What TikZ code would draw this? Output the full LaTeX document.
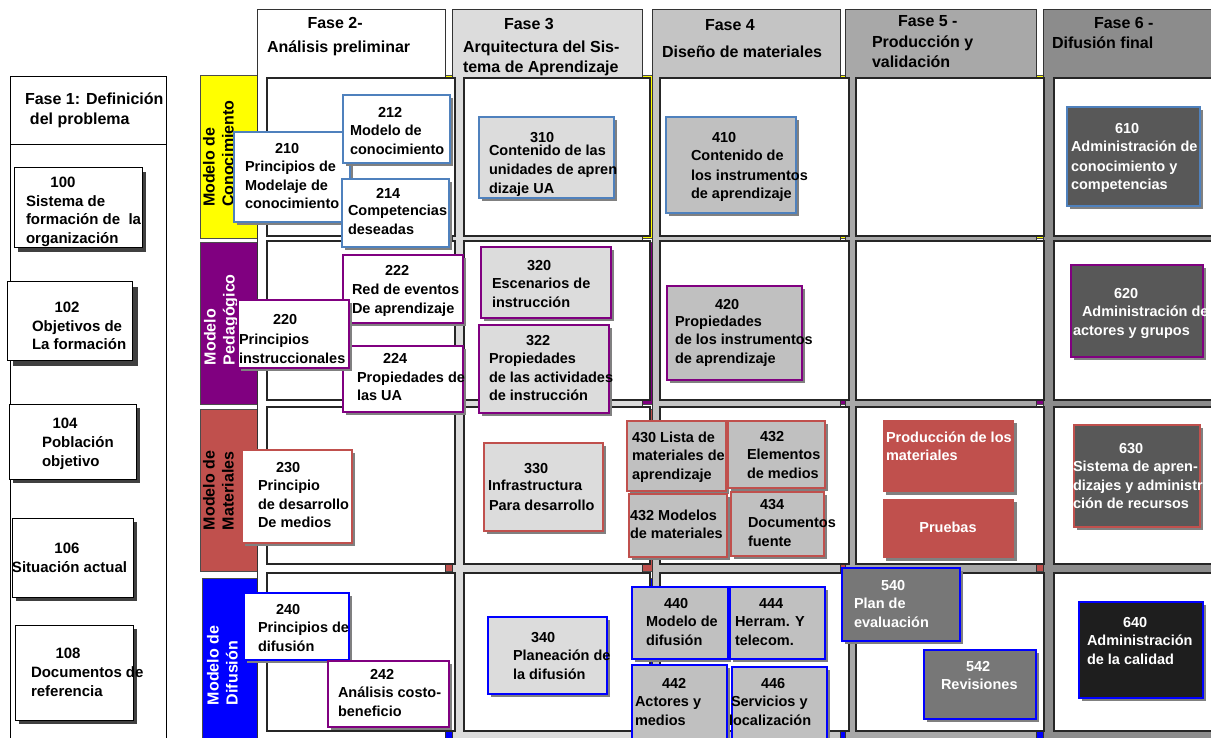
\documentclass[tikz,border=0pt]{standalone}
\usepackage{fontspec}
\setmainfont{Liberation Sans}
\definecolor{cK}{HTML}{4F81BD}
\definecolor{cP}{HTML}{800080}
\definecolor{cM}{HTML}{C0504D}
\definecolor{cD}{HTML}{0000FF}
\definecolor{cY}{HTML}{FFFF00}
\definecolor{gA}{HTML}{DCDCDC}
\definecolor{gB}{HTML}{C4C4C4}
\definecolor{gC}{HTML}{A8A8A8}
\definecolor{gD}{HTML}{8C8C8C}
\definecolor{fB}{HTML}{C0C0C0}
\definecolor{fC}{HTML}{777777}
\definecolor{fD}{HTML}{585858}
\definecolor{fE}{HTML}{1E1E1E}
\tikzset{
  rectst/.style={inner sep=0pt, outer sep=0pt, anchor=north west},
  boxst/.style={draw, line width=2.6pt},
  shd/.style={fill=black!50},
  shdA/.style={fill=black!75},
  cellst/.style={draw=black!85, line width=1.2pt, fill=white},
  colst/.style={draw=black!80, line width=1pt},
  bandst/.style={draw=black!70, line width=0.8pt},
  txt/.style={font=\bfseries\fontsize{14.5}{18.5}\selectfont, align=left, inner sep=0pt, outer sep=0pt, anchor=north west},
  wtxt/.style={txt, text=white},
  ptxt/.style={font=\bfseries\fontsize{15}{18.7}\selectfont, align=left, inner sep=0pt, outer sep=0pt, anchor=north west},
  hdr/.style={font=\bfseries\fontsize{16}{19.5}\selectfont, align=left, inner sep=0pt, outer sep=0pt, anchor=north west},
  lbl/.style={font=\bfseries\fontsize{16}{19}\selectfont, align=left, inner sep=0pt, outer sep=0pt, rotate=90, anchor=north west},
}
\newcommand\rct[6]{\node[rectst,#6,minimum width={(#4-#2)*1pt},minimum height={(#5-#3)*1pt}] (#1) at (#2,#3) {};}
\newcommand\bx[6]{\fill[shd] (#2+3,#3+3) rectangle (#4+3,#5+3);\rct{#1}{#2}{#3}{#4}{#5}{boxst,#6}}
\newcommand\bxA[6]{\fill[shdA] (#2+#6,#3+#6) rectangle (#4+#6,#5+#6);\rct{#1}{#2}{#3}{#4}{#5}{draw=black,line width=1pt,fill=white}}
\newcommand\tx[5]{\node[#4] (#1) at (#2,#3-7.8) {\rule{0pt}{13pt}#5};}
\newcommand\tp[4]{\node[ptxt] (#1) at (#2,#3-8.1) {\rule{0pt}{13.5pt}#4};}
\newcommand\hd[4]{\node[hdr] (#1) at (#2,#3-8.27) {\rule{0pt}{14pt}#4};}
\begin{document}
\begin{tikzpicture}[x=1pt,y=-1pt]
\useasboundingbox (0,0) rectangle (1211,738);
\fill[white] (0,0) rectangle (1211,738);
\clip (0,0) rectangle (1211,738);
% phase 1 column
\rct{p1col}{10}{77}{166}{760}{draw=black,line width=1pt,fill=white}
\draw[line width=1pt] (10,145) -- (166,145);
% bands
\rct{band1}{200}{75}{1240}{238}{bandst,fill=cY}
\rct{band2}{200}{242}{1240}{404}{bandst,fill=cP}
\rct{band3}{200}{409}{1240}{571}{bandst,fill=cM}
\rct{band4}{202}{578}{1240}{760}{bandst,fill=cD}
% phase columns
\rct{col2}{257}{10}{445}{760}{colst,fill=white}
\rct{col3}{452}{10}{642}{760}{colst,fill=gA}
\rct{col4}{652}{10}{840}{760}{colst,fill=gB}
\rct{col5}{845}{10}{1036}{760}{colst,fill=gC}
\rct{col6}{1043}{10}{1240}{760}{colst,fill=gD}
% cells
\foreach \cx/\cxx [count=\i] in {267/455, 464/650, 660/849, 856/1044, 1054/1240}{
  \foreach \cy/\cyy [count=\j] in {78/236, 241/400, 407/564, 573/731}{
    \rct{cell\i\j}{\cx}{\cy}{\cxx}{\cyy}{cellst}
  }
}
% row labels
\node[lbl] (lab1) at (203,207) {Modelo de\\Conocimiento};
\node[lbl,text=white] (lab2) at (204,365) {Modelo\\Pedagógico};
\node[lbl] (lab3) at (203,530) {Modelo de\\Materiales};
\node[lbl,text=white] (lab4) at (207,705) {Modelo de\\Difusión};
% headers
\hd{h1}{25}{99}{Fase 1: Definición\\[0.5pt]\hspace*{5pt}del problema}
\hd{h2}{267}{23}{\hspace*{40.5pt}Fase 2-\\[4.5pt]Análisis preliminar}
\hd{h3}{463}{24}{\hspace*{41pt}Fase 3\\[3.5pt]Arquitectura del Sis-\\tema de Aprendizaje}
\hd{h4}{662}{25}{\hspace*{43pt}Fase 4\\[7.5pt]Diseño de materiales}
\hd{h5}{872}{21}{\hspace*{26pt}Fase 5 -\\[1.5pt]Producción y\\validación}
\hd{h6}{1052}{23}{\hspace*{42pt}Fase 6 -\\[0.5pt]Difusión final}
% phase 1 boxes
\bxA{b100}{14}{168}{142}{248}{4}
\tp{t100}{26}{182}{\hspace*{24.5pt}100\\Sistema de\\formación de\ \ la\\organización}
\bxA{b102}{7}{282}{132}{360}{5.5}
\tp{t102}{32}{307}{\hspace*{22.5pt}102\\Objetivos de\\La formación}
\bxA{b104}{9}{404}{136}{479}{4}
\tp{t104}{42}{423}{\hspace*{10.5pt}104\\[0.5pt]Población\\[0.5pt]objetivo}
\bxA{b106}{12}{518}{133}{597}{4}
\tp{t106}{12}{548}{\hspace*{42.5pt}106\\Situación actual}
\bxA{b108}{15}{625}{133}{720}{4}
\tp{t108}{31}{653}{\hspace*{24.5pt}108\\[0.5pt]Documentos de\\[0.5pt]referencia}
% phase 2
\bx{b210}{234}{132}{350}{222}{draw=cK,fill=white}
\tx{t210}{245}{148}{txt}{\hspace*{30pt}210\\Principios de\\Modelaje de\\conocimiento}
\bx{b212}{343}{95}{450}{163}{draw=cK,fill=white}
\tx{t212}{350}{112}{txt}{\hspace*{28pt}212\\Modelo de\\conocimiento}
\bx{b214}{342}{179}{449}{247}{draw=cK,fill=white}
\tx{t214}{348}{193}{txt}{\hspace*{28pt}214\\[-1pt]Competencias\\deseadas}
\bx{b222}{343}{255}{463}{323}{draw=cP,fill=white}
\tx{t222}{352}{270}{txt}{\hspace*{33pt}222\\[0.5pt]Red de eventos\\[0.5pt]De aprendizaje}
\bx{b224}{343}{346}{463}{412}{draw=cP,fill=white}
\tx{t224}{357}{358}{txt}{\hspace*{26pt}224\\[0.5pt]Propiedades de\\las UA}
\bx{b220}{238}{300}{349}{368}{draw=cP,fill=white}
\tx{t220}{239}{319}{txt}{\hspace*{34pt}220\\[2pt]Principios\\instruccionales}
\bx{b230}{242}{450}{352}{543}{draw=cM,fill=white}
\tx{t230}{258}{467}{txt}{\hspace*{18pt}230\\Principio\\de desarrollo\\De medios}
\bx{b240}{244}{593}{349}{660}{draw=cD,fill=white}
\tx{t240}{258}{609}{txt}{\hspace*{18pt}240\\Principios de\\difusión}
\bx{b242}{328}{661}{449}{727}{draw=cP,fill=white}
\tx{t242}{338}{674}{txt}{\hspace*{32pt}242\\Análisis costo-\\beneficio}
% phase 3
\bx{b310}{479}{117}{614}{198}{draw=cK,fill=gA}
\tx{t310}{489}{137}{txt}{\hspace*{41pt}310\\[-5.5pt]Contenido de las\\[1pt]unidades de apren\\dizaje UA}
\bx{b320}{481}{247}{611}{318}{draw=cP,fill=gA}
\tx{t320}{492}{265}{txt}{\hspace*{35pt}320\\Escenarios de\\instrucción}
\bx{b322}{479}{325}{609}{413}{draw=cP,fill=gA}
\tx{t322}{489}{340}{txt}{\hspace*{37pt}322\\Propiedades\\de las actividades\\de instrucción}
\bx{b330}{484}{443}{603}{531}{draw=cM,fill=gA}
\tx{t330}{488}{468}{txt}{\hspace*{36pt}330\\[-1.5pt]Infrastructura\\[1.5pt]\hspace*{1pt}Para desarrollo}
\bx{b340}{488}{617}{607}{694}{draw=cD,fill=gA}
\tx{t340}{513}{637}{txt}{\hspace*{18pt}340\\Planeación de\\la difusión}
% phase 4
\bx{b410}{666}{117}{796}{213}{draw=cK,fill=fB}
\tx{t410}{691}{137}{txt}{\hspace*{21pt}410\\Contenido de\\[1pt]los instrumentos\\de aprendizaje}
\bx{b420}{667}{286}{802}{380}{draw=cP,fill=fB}
\tx{t420}{675}{304}{txt}{\hspace*{40pt}420\\[-1.5pt]Propiedades\\de los instrumentos\\de aprendizaje}
\bx{b430}{627}{421}{726}{491}{draw=cM,fill=fB}
\tx{t430}{632}{437}{txt}{430 Lista de\\materiales de\\aprendizaje}
\bx{b432}{728}{421}{825}{488}{draw=cM,fill=fB}
\tx{t432}{747}{436}{txt}{\hspace*{13pt}432\\Elementos\\de medios}
\bx{b432m}{629}{494}{727}{557}{draw=cM,fill=fB}
\tx{t432m}{630}{515}{txt}{432 Modelos\\de materiales}
\bx{b434}{731}{492}{824}{556}{draw=cM,fill=fB}
\tx{t434}{748}{504}{txt}{\hspace*{12pt}434\\Documentos\\fuente}
\bx{b440}{632}{587}{728}{659}{draw=cD,fill=fB}
\tx{t440}{646}{603}{txt}{\hspace*{18pt}440\\Modelo de\\difusión}
\bx{b444}{730}{587}{825}{659}{draw=cD,fill=fB}
\tx{t444}{735}{603}{txt}{\hspace*{24pt}444\\Herram. Y\\telecom.}
\bx{b442}{632}{665}{727}{742}{draw=cD,fill=fB}
\tx{t442}{635}{683}{txt}{\hspace*{27pt}442\\Actores y\\medios}
\bx{b446}{732}{667}{827}{742}{draw=cD,fill=fB}
\tx{t446}{729}{683}{txt}{\hspace*{32pt}446\\\hspace*{2pt}Servicios y\\localización}
% phase 5
\bx{bprod}{883}{420}{1014}{492}{draw=none,fill=cM}
\tx{tprod}{886}{437}{wtxt}{Producción de los\\materiales}
\bx{bprue}{883}{499}{1014}{558}{draw=none,fill=cM}
\node[wtxt,anchor=center] (tprue) at (948,527) {Pruebas};
\bx{b540}{842}{568}{960}{641}{draw=cD,fill=fC}
\tx{t540}{854}{585}{wtxt}{\hspace*{27pt}540\\Plan de\\evaluación}
\bx{b542}{924}{650}{1036}{719}{draw=cD,fill=fC}
\tx{t542}{941}{666}{wtxt}{\hspace*{25pt}542\\Revisiones}
% phase 6
\bx{b610}{1067}{107}{1200}{206}{draw=cK,fill=fD}
\tx{t610}{1071}{128}{wtxt}{\hspace*{44pt}610\\Administración de\\[1pt]conocimiento y\\competencias}
\bx{b620}{1071}{265}{1203}{357}{draw=cP,fill=fD}
\tx{t620}{1073}{293}{wtxt}{\hspace*{41pt}620\\\hspace*{9pt}Administración de\\actores y grupos}
\bx{b630}{1074}{425}{1200}{527}{draw=cM,fill=fD}
\tx{t630}{1073}{448}{wtxt}{\hspace*{46pt}630\\Sistema de apren-\\dizajes y administra-\\ción de recursos}
\bx{b640}{1079}{602}{1203}{698}{draw=cD,fill=fE}
\tx{t640}{1087}{622}{wtxt}{\hspace*{36pt}640\\Administración\\de la calidad}
\end{tikzpicture}
\end{document}
